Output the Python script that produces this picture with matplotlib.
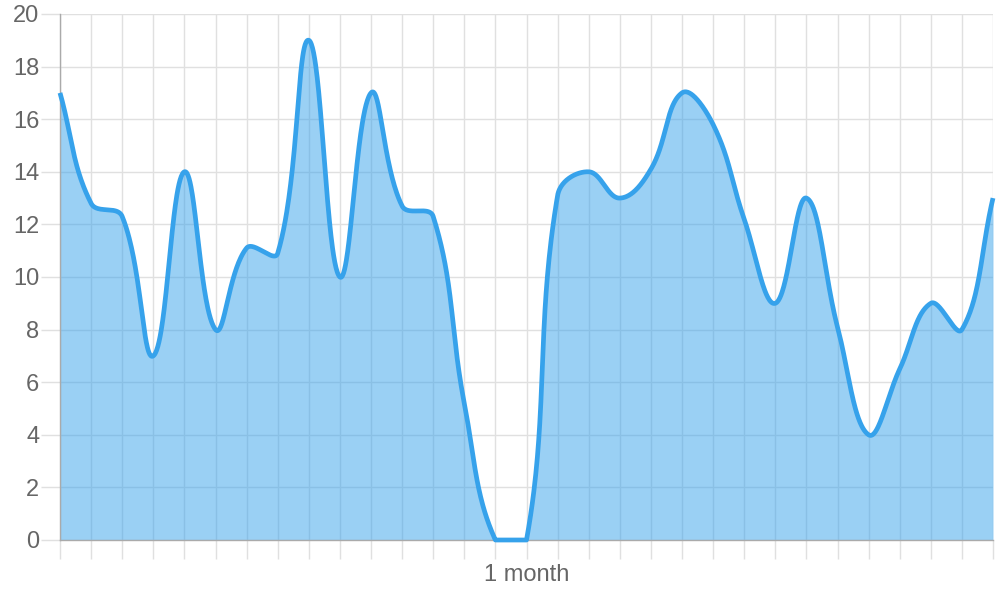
import numpy as np
import matplotlib
matplotlib.use("Agg")
import matplotlib.pyplot as plt

plt.rcParams['font.family'] = ['Liberation Sans', 'DejaVu Sans']

# ---- data ----
days = list(range(31))
values = [17, 12.8, 12.3, 7, 14, 8, 11.1, 10.9, 19, 10, 17, 12.7, 12.3, 5.2, 0, 0,
          13.1, 14, 13, 14.1, 17, 15.8, 12.2, 9, 13, 8.1, 4, 6.5, 9, 8, 13]
x_label_index = 15
x_label_text = "1 month"
y_ticks = [0, 2, 4, 6, 8, 10, 12, 14, 16, 18, 20]

XMIN, XMAX, YMIN, YMAX = 0, 30, 0, 20
AX_W_PX, AX_H_PX = 933.0, 526.0


def tension_curve(xs, ys, tension=0.4, per=60):
    """Chart.js-style cardinal bezier, distances measured in pixels, control points capped to the area."""
    sx = AX_W_PX / (XMAX - XMIN)
    sy = AX_H_PX / (YMAX - YMIN)
    P = np.column_stack([(np.asarray(xs, float) - XMIN) * sx,
                         (np.asarray(ys, float) - YMIN) * sy])
    n = len(P)
    cprev = np.zeros_like(P)
    cnext = np.zeros_like(P)
    for i in range(n):
        prev = P[i - 1] if i > 0 else P[i]
        cur = P[i]
        nxt = P[i + 1] if i < n - 1 else P[i]
        d01 = np.hypot(*(cur - prev))
        d12 = np.hypot(*(nxt - cur))
        tot = d01 + d12
        s01 = d01 / tot if tot else 0
        s12 = d12 / tot if tot else 0
        fa, fb = tension * s01, tension * s12
        cprev[i] = cur - fa * (nxt - prev)
        cnext[i] = cur + fb * (nxt - prev)
    for c in (cprev, cnext):
        c[:, 0] = np.clip(c[:, 0], 0, AX_W_PX)
        c[:, 1] = np.clip(c[:, 1], 0, AX_H_PX)
    X, Y = [], []
    for i in range(n - 1):
        t = np.linspace(0, 1, per, endpoint=(i == n - 2))[:, None]
        p0, p1, p2, p3 = P[i], cnext[i], cprev[i + 1], P[i + 1]
        B = ((1 - t) ** 3) * p0 + 3 * ((1 - t) ** 2) * t * p1 + 3 * (1 - t) * t ** 2 * p2 + t ** 3 * p3
        X.append(B[:, 0])
        Y.append(B[:, 1])
    X = np.concatenate(X) / sx + XMIN
    Y = np.concatenate(Y) / sy + YMIN
    return X, Y


cx, cy = tension_curve(days, values)

fig = plt.figure(figsize=(10, 6), dpi=100)
ax = fig.add_axes([0.06, 0.1, 0.933, 0.8767])

line_color = '#36A2EB'
ax.fill_between(cx, 0, cy, color=line_color, alpha=0.5, linewidth=0, zorder=2)
ax.plot(cx, cy, color=line_color, linewidth=3.4, solid_capstyle='butt',
        solid_joinstyle='round', zorder=5, clip_on=False)

ax.set_xlim(XMIN, XMAX)
ax.set_ylim(YMIN, YMAX)
ax.set_axisbelow(True)

grid_c = '#e0e0e0'
ax.set_xticks(days)
ax.set_xticklabels([x_label_text if i == x_label_index else '' for i in days])
ax.set_yticks(y_ticks)
ax.set_yticklabels([str(v) for v in y_ticks])
ax.grid(True, color=grid_c, linewidth=1.0, zorder=0)
ax.tick_params(axis='both', length=14, width=1.0, color=grid_c,
               labelcolor='#666666', labelsize=17)
ax.tick_params(axis='y', pad=1)
ax.tick_params(axis='x', pad=3)

for s in ['top', 'right']:
    ax.spines[s].set_visible(False)
for s in ['left', 'bottom']:
    ax.spines[s].set_color('#aaaaaa')
    ax.spines[s].set_linewidth(1.0)
    ax.spines[s].set_zorder(3)

ax.xaxis.get_major_ticks()[0].tick1line.set_color('#aaaaaa')
ax.yaxis.get_major_ticks()[0].tick1line.set_color('#aaaaaa')

fig.savefig('out.png', dpi=100)
